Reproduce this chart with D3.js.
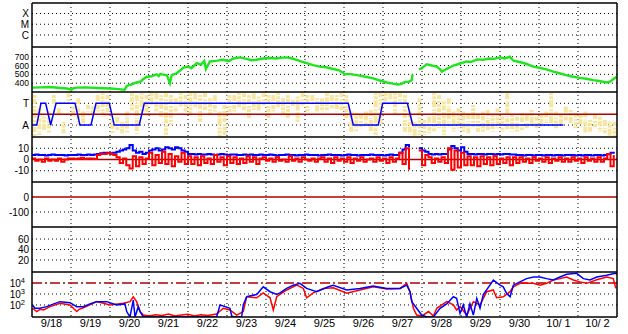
<!DOCTYPE html>
<html lang="en">
<head>
<meta charset="UTF-8">
<title>Space weather summary</title>
<script src="https://d3js.org/d3.v7.min.js"></script>
<style>
    body {
        margin: 0;
        background: #ffffff;
    }
    svg {
        display: block;
        font-family: "Liberation Sans", Arial, sans-serif;
        font-size: 11px;
    }
    .ylab {
        font-size: 10px;
    }
    .ylab.tight {
        font-size: 8.5px;
    }
</style>
</head>
<body>
<script>
// ---- data (time in hours from 9/18 00:00) ----
const dayLabels = ["9/18", "9/19", "9/20", "9/21", "9/22", "9/23", "9/24", "9/25",
    "9/26", "9/27", "9/28", "9/29", "9/30", "10/ 1", "10/ 2"];

const xrayClasses = ["X", "M", "C"];
const speedTicks = [700, 600, 500, 400];
const sectorTicks = ["T", "A"];
const bTicks = [10, 0, -10];
const dstTicks = [0, -100];
const kpTicks = [60, 40, 20];
const fluxTicks = [1e4, 1e3, 1e2];

// solar wind speed (green)
const speedHours = [0.6, 5, 11, 16, 21.4, 24.4, 25.5, 27.5, 33, 39.8, 44, 48, 52, 56, 57, 58.3, 61, 64.4, 67, 68,
    70.6, 73, 76.7, 78, 79, 80, 83, 84.9, 86, 89, 91, 93.1, 96, 98, 101.4, 104, 106, 107, 109.5, 114,
    117.7, 121, 124, 128, 132, 135, 138.3, 142, 146.5, 150, 154, 156.7, 160, 162.9, 166, 169, 173, 177.2, 181, 185.4,
    189, 192.6, 195, 201.8, 206, 210, 214, 218.3, 222, 225.4, 227, 229.5, 232, 233.7, 234.2, 235, 238.2, 240, 242.9, 246,
    249.1, 251, 252.2, 255, 259.3, 263, 267.5, 270, 274, 277.7, 281, 284, 288, 291, 294, 296.2, 300, 304, 308.5, 312,
    316, 320.8, 324, 328, 333.1, 337, 341, 345.4, 349, 353.7, 356, 358, 359.8];
const speedValues = [350, 352, 357, 348, 339, 327, 345, 350, 352, 346, 342, 339, 335, 327, 325, 369, 385, 408, 420, 440,
    473, 475, 500, 480, 505, 500, 490, 400, 490, 512, 540, 577, 590, 570, 627, 610, 650, 560, 646, 655,
    665, 650, 680, 692, 675, 660, 665, 680, 685, 680, 690, 692, 680, 665, 645, 627, 605, 588, 580, 561,
    545, 500, 505, 485, 470, 454, 430, 408, 395, 385, 390, 415, 415, 435, 500, null, 555, 570, 615, 600,
    588, 560, 530, 560, 600, 620, 646, 640, 670, 665, 680, 675, 692, 680, 700, 654, 640, 620, 588, 575,
    560, 530, 515, 495, 473, 460, 450, 435, 425, 408, 420, 450, 473];

// sector polarity (blue, T / A)
const sectorHours = [0, 2.9, 5.5, 8.4, 11.5, 14.8, 26.5, 29.5, 36.3, 39.4, 47.6, 50.6, 66, 69.1,
    194.6, 197.7, 213.1, 215.8, 231, 234.3, 327];
const sectorStates = ["A", "A", "T", "T", "A", "T", "T", "A", "A", "T", "T", "A", "A", "T",
    "T", "A", "A", "T", "T", "A", "A"];

// field angle spread (pale yellow), 3-hour bins, in sector units (A = 0, T = 1)
const angleHi = [1.38, 0.77, 0.38, 0.62, 1.38, 0.77, 0.15, 1.46, 0.85, 1.23, 0.62, 0.92, 0.85, 1.38, 1.46, 1.38,
    0.23, 0.38, 0.15, 0.62, 1.46, 1.38, 1.46, 1.38, 1.46, 1.46, 1.38, 1.46, 1.38, 1.23, 1.46, 1.38,
    1.46, 1.46, 1.38, 1.46, 1.23, 1.38, 0.62, 0.92, 1.38, 1.38, 1.46, 1.46, 1.38, 1.46, 1.31, 1.46,
    1.38, 1.38, 1.46, 1.23, 1.38, 1.15, 1.31, 1.46, 1.38, 1.38, 1.23, 1.23, 1.46, 1.38, 1.38, 1.46,
    1.38, 0.62, 0.54, 0.46, 0.62, 0.69, 1.46, 1.46, 1.46, 1.46, 1.46, 1.46, 1.38, 0.62, 0.15, 1.23,
    0.23, 0.38, 1.46, 1.38, 1.08, 1.23, 0.62, 0.77, 0.62, 0.54, 0.92, 0.46, 0.62, 0.69, 0.46, 0.77,
    0.38, 1.46, 0.46, 0.38, 0.54, 0.46, 0.69, 0.38, 0.46, 0.62, 1.46, 0.62, 0.46, 0.85, 0.69, 0.54,
    0.46, 0.62, 0.23, 0.46, 0.38, 0.23, 0.15, 0.15];
const angleLo = [-0.54, -0.46, -0.23, -0.38, 0.92, 0.46, -0.38, 1.08, 0.38, 0, 0.08, 0.62, 0.38, 0.62, 0.38, 0.38,
    -0.38, -0.23, -0.38, -0.38, 0.62, -0.46, 0.62, 0.38, 0.92, 0.62, 0.38, -0.46, 0, 0.62, 0.85, 0.62,
    0.46, 0.77, 0.15, 0.69, 0.46, 0.62, -0.54, -0.46, 0.46, 0.62, 0.77, 0.62, 0.31, 0.69, 0.62, 0.85,
    0.31, 0.62, 0.77, 0.38, 0.31, 0.77, 0.15, 0.85, 0.62, 0.92, 0.62, 0.62, 0.62, 0.77, 0.62, 0.62,
    0.31, -0.31, -0.31, -0.15, 0, -0.38, -0.46, 0, 1.08, 1.08, 0.46, 1.0, -0.31, -0.46, -0.54, -0.46,
    -0.46, -0.38, -0.31, -0.15, -0.46, 0, -0.31, -0.15, -0.31, -0.38, -0.15, -0.38, -0.31, -0.23, -0.31, -0.15,
    -0.31, -0.23, -0.31, -0.31, -0.23, -0.15, 0, -0.15, -0.08, 0.08, 0, -0.15, 0, 0.15, 0.08, -0.15,
    -0.08, -0.38, -0.31, -0.15, -0.31, -0.38, -0.54, -0.54];

// magnetic field, 2-hour samples: Bt (blue) and Bz (red)
const btValues = [4, 4.5, 4, 4, 3.5, 4, 4.5, 4, 4, 4, 3.5, 4,
    4, 4, 4.5, 4, 4, 4.5, 4, 4.5,
    5, 5.5, 6, 6, 5.5, 6,
    7, 8, 9, 10,
    13,
    8, 6, 7, 5, 6,
    8, 9, 10, 8, 9, 11, 10, 9, 11, 10, 8, 7,
    5, 5, 4.5, 5, 4.5, 4.5, 5, 4.5, 4, 4.5, 5, 4.5, 4, 4.5, 4.5, 4, 4, 4.5, 4, 4.5, 4, 4, 4.5,
    4, 4, 4.5, 4, 3.5, 4, 4, 4.5, 4, 4, 3.5, 4, 4, 4.5, 4, 4, 4, 3.5,
    4, 4, 4.5, 4, 4, 4, 3.5, 4, 4.5, 4, 4, 3.5, 4, 4, 4, 4.5, 4, 4, 4, 3.5, 4, 4.5, 4, 4,
    6, 9, 13, 11,
    null, null,
    10, 8, 7,
    5, 4.5, 5, 4.5, 5, 5,
    9, 12, 10, 8, 11, 7,
    5, 5, 4.5, 5, 5, 4.5, 5, 5, 4.5, 5, 4.5, 5, 5, 4.5, 4.5, 4,
    4, 3.5, 4, 4, 3.5, 4, 4, 3.5, 4, 4, 3.5, 4, 4, 3.5, 4, 4, 4, 3.5, 4, 3.5, 4, 4, 3.5, 4, 4, 3.5, 4,
    5, 6, 7];
const bzValues = [1, -1, 0, -2, 1, -1, 0, -1, 1, -2, 0, 1,
    1, 0.5, 1, 1.5, 0.5, 1, 1, 0.5,
    4, 5, 5, 5.5, 5, 4,
    2, -3, 1, -5,
    -8,
    3, -6, 2, -4, 1,
    6, -5, 4, -3, 7, -4, 5, -6, 3, -2, 6, -4,
    3, -4, 2, -5, 3, -3, 1, -4, 4, -2, 2, -5, 3, -3, 2, -4, 1, -3, 3, -2, 2, -4, 1,
    2, -1, 1, -2, 2, -1, 0, -2, 3, -1, 1, -2, 2, 0, -1, 1, -2, 1,
    2, -2, 1, -3, 2, -1, 1, -2, 2, -3, 1, -1, 2, -2, 0, 1, -2, 2, -1, 1, -3, 2, -2, 1,
    6, -4, 10, -9,
    null, null,
    8, -5, 4,
    2, -3, 1, -2, 2, -3,
    10, -9, 8, -7, 6, -5,
    3, -5, 2, -6, 3, -4, 2, -5, 3, -4, 1, -3, 2, -5, 2, -3,
    2, -2, 1, -3, 2, -1, 1, -2, 2, -3, 1, -1, 2, -2, 1, -2, 2, -1, 1, -3, 2, -1, 1, -2, 2, -2, 1,
    5, -6, 4];

// electron flux (log scale)
const fluxBlueHours = [0.4, 1.8, 4.9, 9, 13, 17.2, 23.4, 27.5, 31.6, 36, 39.8, 46, 52.1, 57.2, 58.3, 60.3, 62.3, 63.4, 65.4, 66.5,
    68.5, 113.6, 115.7, 118.8, 121.8, 122.9, 124, 129, 130, 132.1, 138.3, 142.3, 146.5, 150.6, 152.6, 156.7, 160.8, 164.9, 169, 175.2,
    182.4, 185.4, 193.7, 201.8, 210, 218.3, 226.5, 230.6, 232.6, 233.7, 236.7, 239.8, 243, 247, 251.1, 255.2, 259.3, 261.3, 263.4, 265.4,
    267.5, 269.5, 271.6, 273.7, 275.7, 277.7, 281.8, 283.9, 288, 290, 292.1, 294.2, 296.2, 300.3, 304.4, 308.5, 312.6, 316.7, 320.8, 324.9,
    329, 335.2, 339.3, 343.4, 347.5, 353.7, 358.8, 360];
const fluxBlueValues = [100, 50, 50, 70, 120, 200, 160, 70, 70, 130, 200, 200, 100, 125, 25, 8, 280, 8, 70, 25,
    8, 8, 100, 70, 50, 10, 8, 8, 100, 560, 900, 4500, 1600, 900, 1250, 3200, 6300, 9300, 3200, 1600,
    4500, 6300, 2300, 3200, 5200, 3200, 3200, 6300, 1600, 200, 50, 12, 8, 8, 50, 125, 560, 400, 17, 100,
    8, 125, 12, 400, 50, 900, 6300, 18600, 6300, 4500, 1100, 560, 6300, 12600, 25000, 35000, 35000, 25000, 18600, 35000,
    61000, 76000, 25000, 18600, 35000, 50000, 76000, 70000];
const fluxRedHours = [0.4, 2.9, 5, 7, 11.1, 17.2, 23.4, 27.5, 29, 31.6, 39.8, 48, 56.2, 60.3, 62.3, 64.4, 66.5, 68.5, 72, 76,
    80, 84, 88, 92, 96, 100, 104, 108, 113.6, 117.7, 121.8, 126, 130, 132.1, 138.3, 142.3, 146.5, 148.5, 150.6, 156.7,
    162.9, 167, 169, 173.1, 179.3, 185.4, 193.7, 201.8, 210, 218.3, 226.5, 230.6, 232.6, 234.7, 236.7, 240, 244, 247, 249.1, 255.2,
    259.3, 261.3, 263.4, 267.5, 271.6, 275.7, 279.8, 283.9, 285.9, 290, 294.2, 296.2, 300.3, 308.5, 312.6, 316.7, 320.8, 324.9, 329, 333.1,
    337.2, 341.4, 347.5, 353.7, 357.7, 359.3];
const fluxRedValues = [50, 25, 40, 35, 70, 140, 100, 25, 40, 56, 200, 100, 140, 200, 560, 200, 25, 12, 10, 13,
    11, 15, 10, 12, 14, 10, 13, 11, 15, 50, 35, 12, 25, 560, 450, 1250, 450, 35, 560, 2300,
    6300, 3200, 450, 1250, 3200, 3700, 1150, 2300, 4500, 2800, 3200, 9300, 1600, 50, 12, 10, 25, 10, 50, 200,
    100, 35, 70, 12, 200, 100, 1600, 2300, 450, 560, 1600, 4500, 9300, 9300, 6300, 9300, 18600, 25000, 35000, 18600,
    12600, 9300, 20000, 35000, 25000, 3200];

// ---- layout ----
const width = 628, height = 334;
const left = 32, right = 617;
const edges = [3, 47, 92, 137, 182, 227, 272, 317];

const svg = d3.select("body").append("svg")
    .attr("width", width)
    .attr("height", height);

const x = d3.scaleLinear().domain([0, 360]).range([left, right]);

const yXray = d3.scalePoint().domain(xrayClasses).range([edges[0] + 10.5, edges[0] + 32]);
const ySpeed = d3.scaleLinear().domain([300, 810]).range([edges[2], edges[1]]);
const sectorValue = {T: 1, A: 0};
const ySector = d3.scaleLinear().domain([-0.55, 1.52]).range([edges[3], edges[2]]);
const yB = d3.scaleLinear().domain([-20, 20]).range([edges[4], edges[3]]);
const yDst = d3.scaleLinear().domain([-200, 100]).range([edges[5], edges[4]]);
const yKp = d3.scaleLinear().domain([-3, 83]).range([edges[6], edges[5]]);
const yFlux = d3.scaleLog().domain([8, 1e5]).range([edges[7], edges[6]]).clamp(true);

// clip paths, one per panel
const defs = svg.append("defs");
for (let i = 0; i < 7; i++) {
    defs.append("clipPath").attr("id", "clip" + i)
        .append("rect")
        .attr("x", left).attr("y", edges[i])
        .attr("width", right - left).attr("height", edges[i + 1] - edges[i]);
}

const dotted = "1,3";
const gridG = svg.append("g");

function hDotted(y) {
    gridG.append("line")
        .attr("x1", left).attr("x2", right)
        .attr("y1", y).attr("y2", y)
        .attr("stroke", "#000").attr("stroke-width", 1)
        .attr("stroke-dasharray", dotted);
}

function refLine(y, dash) {
    svg.append("line")
        .attr("x1", left).attr("x2", right)
        .attr("y1", y).attr("y2", y)
        .attr("stroke", "#b00000").attr("stroke-width", 1.5)
        .attr("stroke-dasharray", dash || null);
}

function yLabel(y, txt, cls) {
    svg.append("text")
        .attr("class", cls || "ylab")
        .attr("x", 29).attr("y", y).attr("dy", "0.36em")
        .attr("text-anchor", "end")
        .text(txt);
}

// ---- panel 3 pale yellow spread (drawn first, underneath) ----
const angleHours = d3.range(angleHi.length).map(i => i * 3);
const speckle = ["3,1,5,2,2,1", "6,2,1,1,4,1", "2,1,3,1,7,2", "4,2,2,1,3,1"];
svg.append("g").attr("clip-path", "url(#clip2)")
    .selectAll("line")
    .data(angleHours)
    .enter()
    .append("line")
    .attr("x1", (d) => x(d) + 2.4)
    .attr("x2", (d) => x(d) + 2.4)
    .attr("y1", (d, i) => ySector(angleHi[i]))
    .attr("y2", (d, i) => ySector(angleLo[i]))
    .attr("stroke", "#f8e6a0")
    .attr("stroke-width", 4)
    .attr("stroke-dasharray", (d, i) => speckle[i % speckle.length]);

// ---- grid ----
xrayClasses.forEach(c => hDotted(yXray(c)));
speedTicks.forEach(v => hDotted(ySpeed(v)));
sectorTicks.forEach(s => hDotted(ySector(sectorValue[s])));
bTicks.forEach(v => { if (v !== 0) hDotted(yB(v)); });
dstTicks.forEach(v => { if (v !== 0) hDotted(yDst(v)); });
kpTicks.forEach(v => hDotted(yKp(v)));
fluxTicks.forEach(v => { if (v < 1e4) hDotted(yFlux(v)); });

for (let d = 1; d < dayLabels.length; d++) {
    gridG.append("line")
        .attr("x1", x(d * 24)).attr("x2", x(d * 24))
        .attr("y1", edges[0]).attr("y2", edges[7])
        .attr("stroke", "#000").attr("stroke-width", 1)
        .attr("stroke-dasharray", dotted);
}

// ---- reference lines ----
refLine(ySector(0.5));
refLine(yB(0));
refLine(yDst(0));
refLine(yFlux(1e4), "10,3,2,3");

// ---- data lines ----
function drawLine(panel, hours, values, yScale, color, w, curve) {
    const pts = hours.map((h, i) => [h, values[i]]);
    const line = d3.line()
        .defined(d => d[1] !== null)
        .curve(curve || d3.curveLinear)
        .x(d => x(d[0]))
        .y(d => yScale(d[1]));
    svg.append("path")
        .attr("clip-path", "url(#clip" + panel + ")")
        .attr("d", line(pts))
        .attr("fill", "none")
        .attr("stroke", color)
        .attr("stroke-width", w)
        .attr("stroke-linejoin", "miter");
}

drawLine(1, speedHours, speedValues, ySpeed, "#1ee61e", 2.4);

drawLine(2, sectorHours, sectorStates.map(s => sectorValue[s]), ySector, "#0000ff", 1.5);

const bHours = d3.range(btValues.length).map(i => i * 2);
drawLine(3, bHours, btValues, yB, "#0000ff", 2, d3.curveStepAfter);
drawLine(3, bHours, bzValues, yB, "#ff0000", 2, d3.curveStepAfter);

drawLine(6, fluxRedHours, fluxRedValues, yFlux, "#ff0000", 1.5);
drawLine(6, fluxBlueHours, fluxBlueValues, yFlux, "#0000ff", 1.5);

// ---- frame ----
edges.forEach(y => {
    svg.append("line")
        .attr("x1", left).attr("x2", right)
        .attr("y1", y).attr("y2", y)
        .attr("stroke", "#000").attr("stroke-width", 1.5);
});
[left, right].forEach(xx => {
    svg.append("line")
        .attr("x1", xx).attr("x2", xx)
        .attr("y1", edges[0]).attr("y2", edges[7])
        .attr("stroke", "#000").attr("stroke-width", 1.5);
});

// ---- labels ----
xrayClasses.forEach(c => yLabel(yXray(c), c));
speedTicks.forEach(v => yLabel(ySpeed(v), v, "ylab tight"));
sectorTicks.forEach(s => yLabel(ySector(sectorValue[s]), s));
bTicks.forEach(v => yLabel(yB(v), v));
dstTicks.forEach(v => yLabel(yDst(v), v));
kpTicks.forEach(v => yLabel(yKp(v), v));
fluxTicks.forEach(v => {
    const t = svg.append("text")
        .attr("class", "ylab")
        .attr("x", 25).attr("y", yFlux(v)).attr("dy", "0.45em")
        .attr("text-anchor", "end");
    t.append("tspan").text("10");
    t.append("tspan").attr("dy", "-0.55em").attr("font-size", "7.5px").text(Math.round(Math.log10(v)));
});

dayLabels.forEach((lab, i) => {
    svg.append("text")
        .attr("x", x(i * 24 + 12))
        .attr("y", 327)
        .attr("text-anchor", "middle")
        .text(lab);
});
</script>
</body>
</html>
